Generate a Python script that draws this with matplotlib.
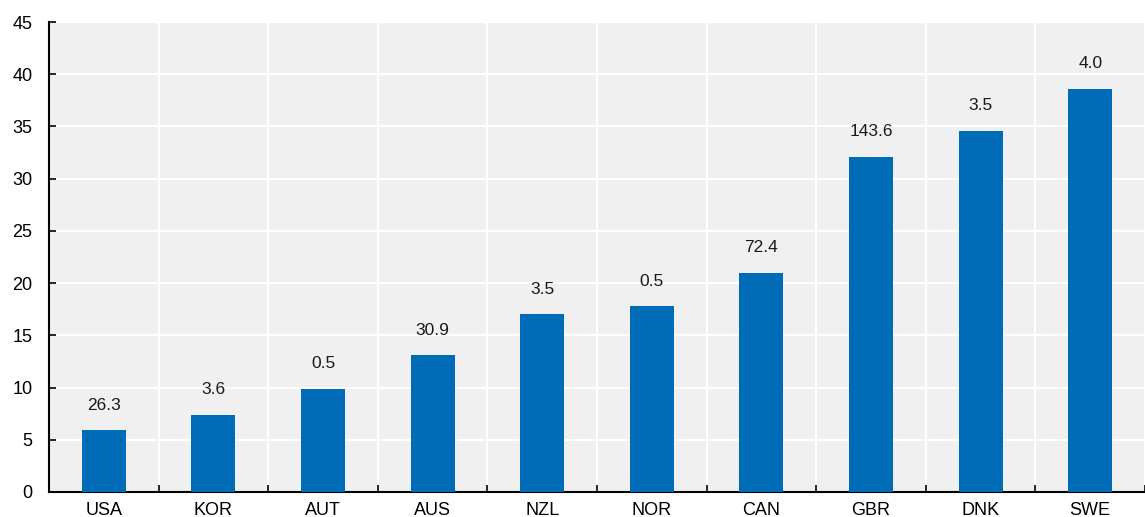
import matplotlib.pyplot as plt
import numpy as np

countries = ["USA", "KOR", "AUT", "AUS", "NZL", "NOR", "CAN", "GBR", "DNK", "SWE"]
values = [5.9, 7.4, 9.9, 13.1, 17.0, 17.8, 21.0, 32.1, 34.6, 38.6]
labels = ["26.3", "3.6", "0.5", "30.9", "3.5", "0.5", "72.4", "143.6", "3.5", "4.0"]

plt.rcParams['font.family'] = ['Liberation Sans', 'DejaVu Sans']

fig = plt.figure(figsize=(11.45, 5.17), dpi=100)
ax = fig.add_axes([0.0428, 0.0484, 0.9572, 0.909])
ax.set_facecolor("#f0f0f0")

x = np.arange(len(countries))
bars = ax.bar(x, values, width=0.4, color="#006bb6", zorder=3)

for b, lab in zip(bars, labels):
    ax.annotate(lab, (b.get_x() + b.get_width() / 2, b.get_height()),
                xytext=(0, 18), textcoords="offset points",
                ha="center", va="center", fontsize=12.5, color="#1a1a1a")

ax.set_ylim(0, 45)
ax.set_yticks(range(0, 50, 5))
ax.set_xlim(-0.5, 9.4)
ax.set_xticks(x)
ax.set_xticklabels(countries)
ax.set_xticks(np.arange(-0.5, 10, 1), minor=True)

ax.grid(axis="y", color="white", linewidth=1.5, zorder=0)
ax.grid(axis="x", which="minor", color="white", linewidth=1.5, zorder=0)
ax.set_axisbelow(True)

ax.tick_params(axis="x", which="major", length=0, pad=7, labelsize=13)
ax.tick_params(axis="x", which="minor", direction="in", length=5, width=1.2)
ax.tick_params(axis="y", direction="in", length=5, width=1.2, pad=12, labelsize=13)

for s in ["top", "right"]:
    ax.spines[s].set_visible(False)
for s in ["left", "bottom"]:
    ax.spines[s].set_linewidth(1.5)
    ax.spines[s].set_color("black")

fig.savefig("out.png", dpi=100)
